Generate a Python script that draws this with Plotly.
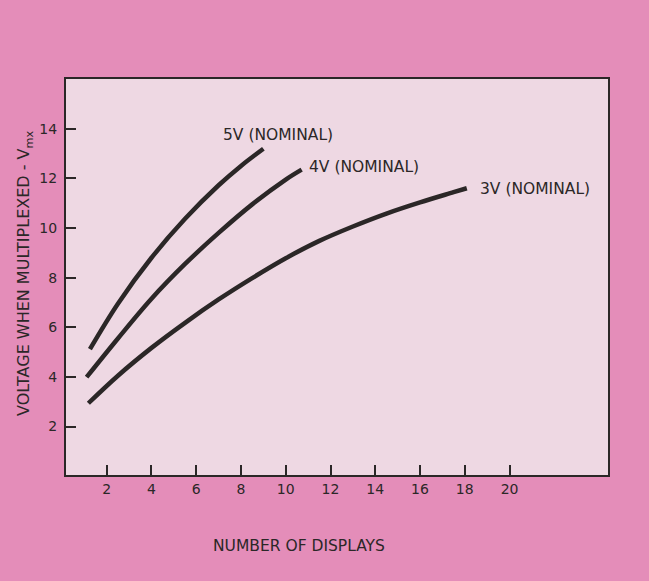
import plotly.graph_objects as go

# Multiplexed voltage versus number of displays, per nominal supply
x_5v = [1.25, 2.5, 4.0, 5.5, 7.0, 8.0, 9.0]
y_5v = [5.12, 6.95, 8.80, 10.37, 11.72, 12.50, 13.19]

x_4v = [1.10, 2.5, 4.0, 5.5, 7.0, 8.5, 10.0, 10.71]
y_4v = [3.99, 5.55, 7.15, 8.55, 9.80, 10.95, 11.95, 12.35]

x_3v = [1.18, 2.5, 4.0, 5.5, 7.0, 8.5, 10.0, 11.5, 13.0, 14.5, 16.0, 17.5, 18.09]
y_3v = [2.94, 4.05, 5.17, 6.18, 7.12, 7.98, 8.78, 9.48, 10.06, 10.58, 11.03, 11.44, 11.60]

series_labels = ["5V (NOMINAL)", "4V (NOMINAL)", "3V (NOMINAL)"]
label_pos = [(7.1, 13.76), (10.95, 12.47), (18.6, 11.58)]

x_ticks = [2, 4, 6, 8, 10, 12, 14, 16, 18, 20]
y_ticks = [2, 4, 6, 8, 10, 12, 14]

FONT = "DejaVu Sans"
INK = "#2b2727"

fig = go.Figure()
for xs, ys in [(x_5v, y_5v), (x_4v, y_4v), (x_3v, y_3v)]:
    fig.add_trace(go.Scatter(
        x=xs, y=ys, mode="lines",
        line=dict(color=INK, width=4.5, shape="spline", smoothing=1.0),
        showlegend=False, hoverinfo="skip",
    ))

for text, (lx, ly) in zip(series_labels, label_pos):
    fig.add_annotation(x=lx, y=ly, text=text, showarrow=False,
                       xanchor="left", yanchor="middle",
                       font=dict(family=FONT, size=15.5, color=INK))

# Axis titles placed as annotations
fig.add_annotation(xref="paper", yref="paper", x=0.43, y=-0.179,
                   text="NUMBER OF DISPLAYS", showarrow=False,
                   xanchor="center", yanchor="middle",
                   font=dict(family=FONT, size=15.5, color=INK))
fig.add_annotation(xref="paper", yref="paper", x=-0.0755, y=0.508,
                   text="VOLTAGE WHEN MULTIPLEXED - V<sub>mx</sub>", showarrow=False,
                   textangle=-90, xanchor="center", yanchor="middle",
                   font=dict(family=FONT, size=16, color=INK))

axis_common = dict(
    showline=True, linecolor=INK, linewidth=2, mirror=True,
    ticks="inside", ticklen=10, tickwidth=2, tickcolor=INK,
    showgrid=False, zeroline=False,
    tickfont=dict(family=FONT, size=14, color=INK),
)

fig.update_xaxes(range=[0.18, 24.4], tickvals=x_ticks, **axis_common)
fig.update_yaxes(range=[0.05, 16.0], tickvals=y_ticks, ticklabelstandoff=4,
                 **axis_common)

fig.update_layout(
    width=649, height=581,
    margin=dict(l=66, r=41, t=79, b=106),
    paper_bgcolor="#e48db9",
    plot_bgcolor="#eed8e3",
)

fig.write_html("out.html")
